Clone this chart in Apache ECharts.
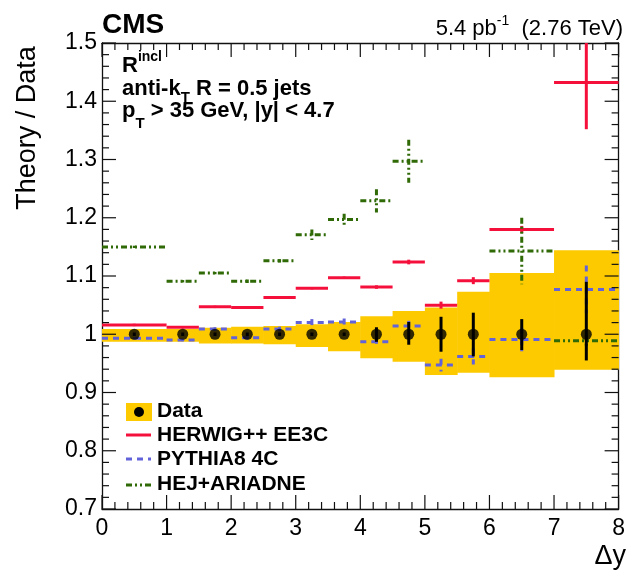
<!DOCTYPE html>
<html>
<head>
<meta charset="utf-8">
<script src="https://cdn.jsdelivr.net/npm/echarts@6/dist/echarts.min.js"></script>
<style>
html, body { margin: 0; padding: 0; background: #fff; }
#chart { width: 628px; height: 570px; }
</style>
</head>
<body>
<div id="chart"></div>
<script>
// bins in delta y
var binLo = [0, 1, 1.5, 2, 2.5, 3, 3.5, 4, 4.5, 5, 5.5, 6, 7];
var binHi = [1, 1.5, 2, 2.5, 3, 3.5, 4, 4.5, 5, 5.5, 6, 7, 8];
var dataX = [0.5, 1.25, 1.75, 2.25, 2.75, 3.25, 3.75, 4.25, 4.75, 5.25, 5.75, 6.5, 7.5];
var dataVal = [1, 1, 1, 1, 1, 1, 1, 1, 1, 1, 1, 1, 1];
var statUp = [0.003, 0.003, 0.003, 0.003, 0.003, 0.003, 0.003, 0.012, 0.021, 0.030, 0.037, 0.026, 0.090];
var statDn = [0.003, 0.003, 0.003, 0.003, 0.003, 0.003, 0.003, 0.013, 0.018, 0.030, 0.038, 0.027, 0.045];
// systematic band (yellow)
var sysLo = [0.987, 0.987, 0.984, 0.984, 0.983, 0.978, 0.971, 0.959, 0.953, 0.930, 0.934, 0.926, 0.939];
var sysHi = [1.009, 1.009, 1.011, 1.013, 1.014, 1.017, 1.021, 1.031, 1.040, 1.046, 1.073, 1.105, 1.144];
// theory / data
var herwig = [1.016, 1.012, 1.047, 1.046, 1.063, 1.079, 1.097, 1.081, 1.124, 1.050, 1.092, 1.180, 1.432];
var herwigErr = [0.002, 0.002, 0.002, 0.002, 0.002, 0.002, 0.002, 0.003, 0.004, 0.006, 0.006, 0.006, 0.080];
var pythia = [0.993, 0.990, 1.009, 0.994, 1.009, 1.020, 1.021, 0.987, 1.014, 0.947, 0.962, 0.991, 1.077];
var pythiaErr = [0.002, 0.002, 0.003, 0.003, 0.004, 0.006, 0.006, 0.007, 0.009, 0.011, 0.014, 0.020, 0.041];
var hej = [1.150, 1.091, 1.105, 1.091, 1.126, 1.171, 1.197, 1.229, 1.297, null, null, 1.143, 0.989];
var hejErr = [0.002, 0.002, 0.002, 0.003, 0.003, 0.009, 0.010, 0.020, 0.037, null, null, 0.057, 0.010];

// axis ranges / tick steps
var xMin = 0, xMax = 8, xStep = 1;
var yMin = 0.7, yMax = 1.5, yStep = 0.1;
var minorDiv = 5;

var RED = '#f5103c', BLUE = '#6262da', GREEN = '#2f6a06', YELLOW = '#fdca00';
var FONT = '"Liberation Sans", Arial, Helvetica, sans-serif';
var DASH_BLUE = [6, 5];
var DASH_GREEN = [6, 3, 2, 3, 2, 3];

var myChart = echarts.init(document.getElementById('chart'));

function stepData(vals, errs) {
    var out = [];
    for (var i = 0; i < vals.length; i++) {
        if (vals[i] === null) continue;
        out.push([binLo[i], binHi[i], vals[i], errs[i]]);
    }
    return out;
}

// horizontal line across bin + vertical error bar
function makeStep(color, dash) {
    return function (params, api) {
        var x0 = api.value(0), x1 = api.value(1), y = api.value(2), e = api.value(3);
        var a = api.coord([x0, y]), b = api.coord([x1, y]);
        var xc = (x0 + x1) / 2;
        var up = api.coord([xc, y + e]), dn = api.coord([xc, y - e]);
        return {
            type: 'group',
            children: [
                { type: 'line', shape: { x1: a[0], y1: a[1], x2: b[0], y2: b[1] },
                  style: { stroke: color, lineWidth: 3, lineDash: dash, fill: null } },
                { type: 'line', shape: { x1: up[0], y1: up[1], x2: dn[0], y2: dn[1] },
                  style: { stroke: color, lineWidth: 3, lineDash: dash, fill: null } }
            ]
        };
    };
}

function renderBand(params, api) {
    var p0 = api.coord([api.value(0), api.value(3)]);
    var p1 = api.coord([api.value(1), api.value(2)]);
    return {
        type: 'rect',
        shape: { x: p0[0], y: p0[1], width: p1[0] - p0[0] + 0.5, height: p1[1] - p0[1] },
        style: { fill: YELLOW }
    };
}

function renderStat(params, api) {
    var x = api.value(0), y = api.value(1);
    var up = api.coord([x, y + api.value(2)]);
    var dn = api.coord([x, y - api.value(3)]);
    return { type: 'line', shape: { x1: up[0], y1: up[1], x2: dn[0], y2: dn[1] },
             style: { stroke: '#000', lineWidth: 3 } };
}

// ROOT style ticks on all four sides, placed with the axis scales
function renderTicks(params, api) {
    var cs = params.coordSys;
    var top = cs.y, bottom = cs.y + cs.height, left = cs.x, right = cs.x + cs.width;
    var kids = [];
    var st = { stroke: '#111', lineWidth: 1.2 };
    var nx = Math.round((xMax - xMin) / xStep * minorDiv);
    for (var k = 0; k <= nx; k++) {
        var xv = xMin + k * xStep / minorDiv;
        var px = api.coord([xv, yMin])[0];
        var len = (k % minorDiv === 0) ? 14 : 7;
        kids.push({ type: 'line', shape: { x1: px, y1: bottom, x2: px, y2: bottom - len }, style: st });
        kids.push({ type: 'line', shape: { x1: px, y1: top, x2: px, y2: top + len }, style: st });
    }
    var ny = Math.round((yMax - yMin) / yStep * minorDiv);
    for (var j = 0; j <= ny; j++) {
        var yv = yMin + j * yStep / minorDiv;
        var py = api.coord([xMin, yv])[1];
        var ylen = (j % minorDiv === 0) ? 14 : 7;
        kids.push({ type: 'line', shape: { x1: left, y1: py, x2: left + ylen, y2: py }, style: st });
        kids.push({ type: 'line', shape: { x1: right, y1: py, x2: right - ylen, y2: py }, style: st });
    }
    return { type: 'group', children: kids };
}

var bandData = binLo.map(function (v, i) { return [v, binHi[i], sysLo[i], sysHi[i]]; });
var statData = dataX.map(function (x, i) { return [x, dataVal[i], statUp[i], statDn[i]]; });
var pointData = dataX.map(function (x, i) { return [x, dataVal[i]]; });

// text measuring for sub/superscripts
var mctx = document.createElement('canvas').getContext('2d');
function tw(str, size, bold) {
    mctx.font = (bold ? 'bold ' : '') + size + 'px ' + FONT;
    return mctx.measureText(str).width;
}
// pieces: [text, size, dy]
function textRow(x, y, pieces, bold, alignRight) {
    var total = 0;
    pieces.forEach(function (p) { total += tw(p[0], p[1], bold); });
    var cx = alignRight ? x - total : x;
    var out = [];
    pieces.forEach(function (p) {
        out.push({
            type: 'text', x: cx, y: y + p[2],
            style: { text: p[0], font: (bold ? 'bold ' : '') + p[1] + 'px ' + FONT,
                     fill: '#000', textAlign: 'left', textVerticalAlign: 'middle' }
        });
        cx += tw(p[0], p[1], bold);
    });
    return out;
}

var graphics = [];
graphics = graphics.concat(textRow(102, 25, [['CMS', 28, 0]], true));
graphics = graphics.concat(textRow(623, 29, [['5.4 pb', 22, 0], ['-1', 14, -8], ['  (2.76 TeV)', 22, 0]], false, true));
graphics = graphics.concat(textRow(122, 66, [['R', 22, 0], ['incl', 14, -9]], true));
graphics = graphics.concat(textRow(122, 89, [['anti-k', 22, 0], ['T', 15, 9], [' R = 0.5 jets', 22, 0]], true));
graphics = graphics.concat(textRow(122, 111, [['p', 22, 0], ['T', 15, 13], [' > 35 GeV, |y| < 4.7', 22, 0]], true));

// axis titles
graphics.push({
    type: 'text', x: 28, y: 128, rotation: Math.PI / 2,
    style: { text: 'Theory / Data', font: '27px ' + FONT, fill: '#000',
             textAlign: 'center', textVerticalAlign: 'middle' }
});
graphics.push({
    type: 'text', x: 626, y: 557,
    style: { text: 'Δy', font: '27px ' + FONT, fill: '#000',
             textAlign: 'right', textVerticalAlign: 'middle' }
});

// legend
var legTexts = ['Data', 'HERWIG++ EE3C', 'PYTHIA8 4C', 'HEJ+ARIADNE'];
var legY = [411, 435, 459, 484];
graphics.push({ type: 'rect', shape: { x: 126, y: 403, width: 26, height: 18 }, style: { fill: YELLOW } });
graphics.push({ type: 'circle', shape: { cx: 139, cy: 412, r: 5 }, style: { fill: '#000' } });
graphics.push({ type: 'line', shape: { x1: 126, y1: legY[1], x2: 151, y2: legY[1] }, style: { stroke: RED, lineWidth: 3 } });
graphics.push({ type: 'line', shape: { x1: 126, y1: legY[2], x2: 151, y2: legY[2] }, style: { stroke: BLUE, lineWidth: 3, lineDash: DASH_BLUE } });
graphics.push({ type: 'line', shape: { x1: 126, y1: legY[3] + 1, x2: 151, y2: legY[3] + 1 }, style: { stroke: GREEN, lineWidth: 3, lineDash: DASH_GREEN } });
legTexts.forEach(function (t, i) {
    graphics = graphics.concat(textRow(157, legY[i], [[t, 21, 0]], true));
});

function lineOpt() { return { show: true, onZero: false, lineStyle: { color: '#111', width: 1.3 } }; }

var option = {
    animation: false,
    grid: { left: 102, right: 6, top: 43, bottom: 61 },
    xAxis: [{
        type: 'value', min: xMin, max: xMax, interval: xStep, position: 'bottom',
        axisLine: lineOpt(), axisTick: { show: false }, minorTick: { show: false },
        splitLine: { show: false },
        axisLabel: { fontSize: 23, color: '#000', fontFamily: FONT, margin: 8,
                     showMinLabel: true, showMaxLabel: true }
    }, {
        type: 'value', min: xMin, max: xMax, interval: xStep, position: 'top',
        axisLine: lineOpt(), axisTick: { show: false }, minorTick: { show: false },
        splitLine: { show: false }, axisLabel: { show: false }
    }],
    yAxis: [{
        type: 'value', min: yMin, max: yMax, interval: yStep, position: 'left',
        axisLine: lineOpt(), axisTick: { show: false }, minorTick: { show: false },
        splitLine: { show: false },
        axisLabel: {
            fontSize: 23, color: '#000', fontFamily: FONT, margin: 5,
            showMinLabel: true, showMaxLabel: true,
            formatter: function (v) { return String(parseFloat(v.toFixed(1))); }
        }
    }, {
        type: 'value', min: yMin, max: yMax, interval: yStep, position: 'right',
        axisLine: lineOpt(), axisTick: { show: false }, minorTick: { show: false },
        splitLine: { show: false }, axisLabel: { show: false }
    }],
    graphic: graphics,
    series: [
        { type: 'custom', name: 'band', renderItem: renderBand, data: bandData, clip: true,
          encode: { x: [0, 1], y: [2, 3] }, z: 1 },
        { type: 'custom', name: 'PYTHIA8 4C', renderItem: makeStep(BLUE, DASH_BLUE),
          data: stepData(pythia, pythiaErr), clip: true, encode: { x: [0, 1], y: 2 }, z: 2 },
        { type: 'custom', name: 'HERWIG++ EE3C', renderItem: makeStep(RED, null),
          data: stepData(herwig, herwigErr), clip: true, encode: { x: [0, 1], y: 2 }, z: 3 },
        { type: 'custom', name: 'HEJ+ARIADNE', renderItem: makeStep(GREEN, DASH_GREEN),
          data: stepData(hej, hejErr), clip: true, encode: { x: [0, 1], y: 2 }, z: 4 },
        { type: 'custom', name: 'stat', renderItem: renderStat, data: statData, clip: true,
          encode: { x: 0, y: 1 }, z: 5 },
        { type: 'scatter', name: 'Data', data: pointData, symbol: 'circle', symbolSize: 11,
          itemStyle: { color: '#000' }, z: 6 },
        { type: 'custom', name: 'ticks', renderItem: renderTicks, data: [[xMin, yMin]], clip: false,
          silent: true, encode: { x: 0, y: 1 }, z: 10 }
    ]
};

myChart.setOption(option);
</script>
</body>
</html>
